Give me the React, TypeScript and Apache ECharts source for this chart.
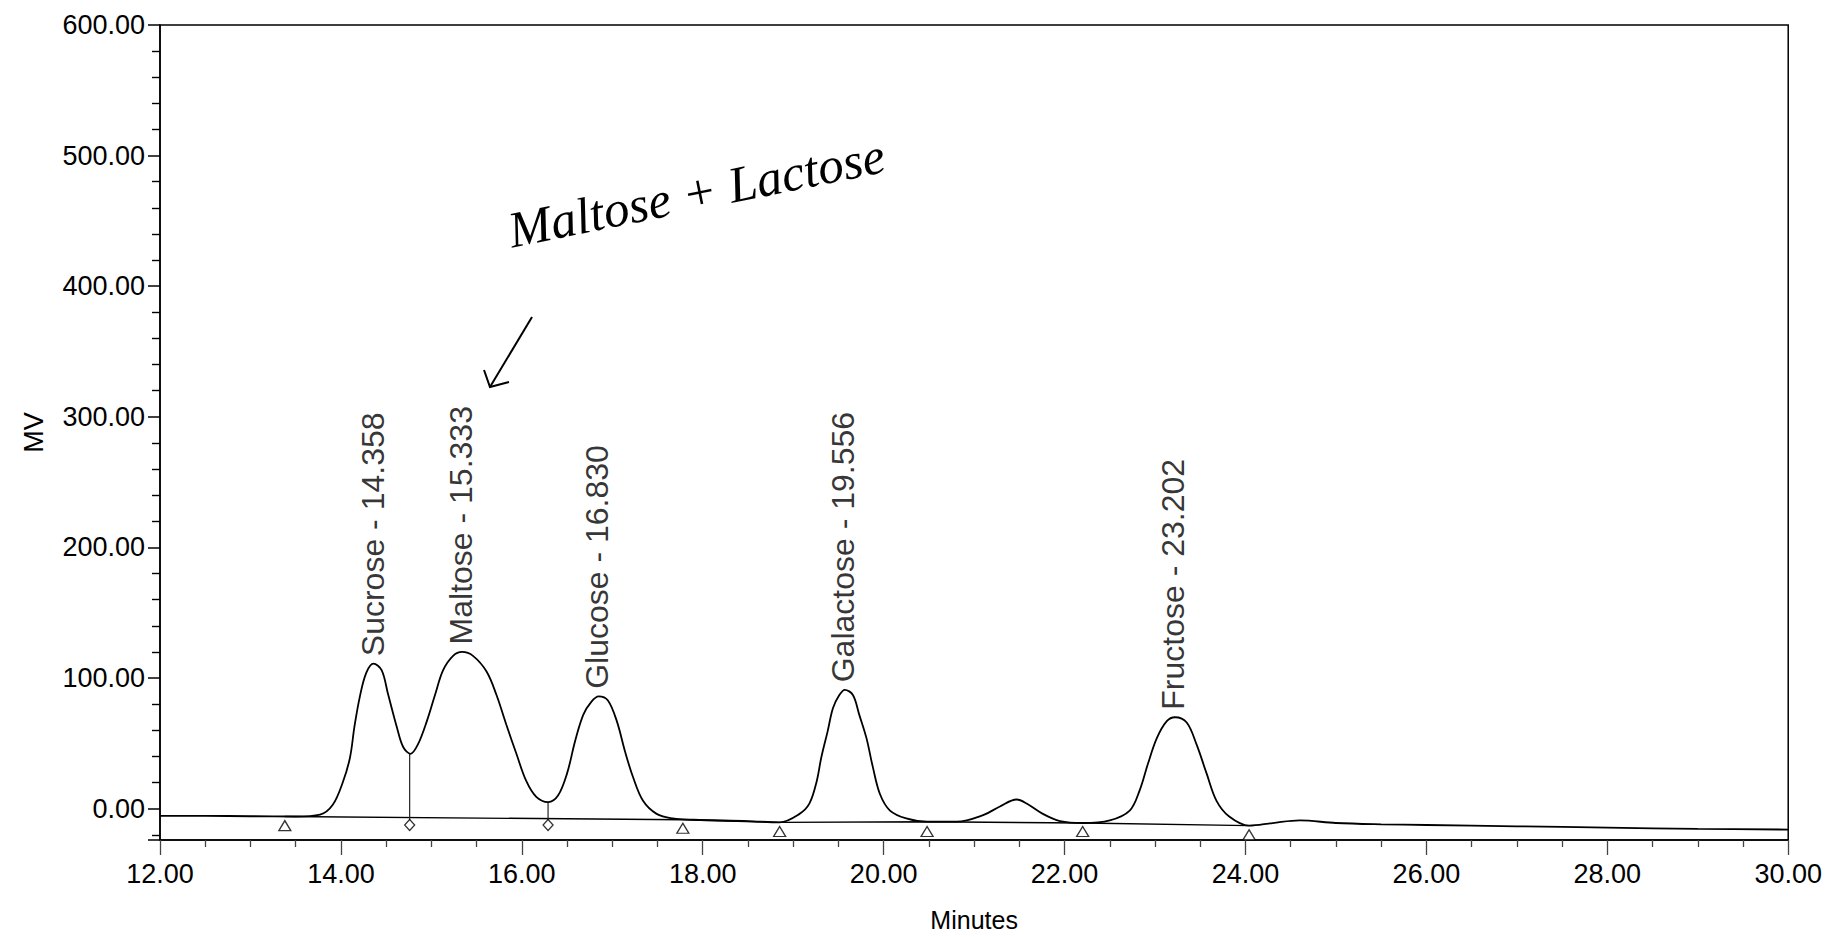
import React, { useEffect, useRef } from "react";
import * as echarts from "echarts";

// ---- Chromatogram trace (minutes, mV) ----
const TRACE_TIME = [
  12.0, 12.5, 13.0, 13.5, 13.77, 13.91, 14.02, 14.1, 14.15, 14.21, 14.28, 14.36, 14.45, 14.52, 14.62, 14.69,
  14.77, 14.85, 14.95, 15.04, 15.13, 15.24, 15.34, 15.46, 15.61, 15.72, 15.83, 15.94, 16.05, 16.16, 16.29,
  16.4, 16.5, 16.59, 16.68, 16.77, 16.85, 16.95, 17.05, 17.14, 17.23, 17.34, 17.49, 17.67, 17.9, 18.5,
  18.85, 19.07, 19.18, 19.26, 19.31, 19.38, 19.44, 19.51, 19.57, 19.66, 19.73, 19.81, 19.88, 19.96, 20.07,
  20.25, 20.48, 20.81, 21.1, 21.28, 21.47, 21.58, 21.76, 21.95, 22.2, 22.5, 22.72, 22.83, 22.92, 23.02,
  23.13, 23.22, 23.35, 23.46, 23.57, 23.68, 23.82, 24.04, 24.3, 24.6, 25.0, 25.5, 26.0, 27.0, 28.0, 29.0, 30.0,
];
const TRACE_MV = [
  -5.5, -5.5, -5.8, -6, -4.5, 3, 20, 39, 63, 86, 104, 111, 106, 88, 62, 47,
  42, 49, 67, 87, 106, 117, 120, 117, 105, 87, 64, 42, 21, 9, 5,
  10, 27, 52, 72, 82, 86, 83, 67, 44, 24, 6, -4, -7.5, -8.5, -9.5,
  -10.5, -4, 4, 21, 39, 59, 77, 87, 91, 87, 72, 54, 32, 11, -1.5,
  -7.5, -10, -10, -5, 1.5, 7, 4, -4, -9.5, -11, -9, -1.5, 14, 34, 54,
  67, 70, 66, 49, 27, 6, -6, -13, -11, -9, -11, -12, -12.5, -13.5, -14.5, -15.5, -16,
];

// ---- Peaks ----
const PEAK_NAMES = ["Sucrose", "Maltose", "Glucose", "Galactose", "Fructose"];
const PEAK_RT_TEXT = ["14.358", "15.333", "16.830", "19.556", "23.202"];
const PEAK_TIME = [14.358, 15.333, 16.83, 19.556, 23.202];
const PEAK_MV = [111, 120, 86, 91, 70];

// ---- Integration baseline, drop lines and markers ----
const BASELINE_TIME = [13.38, 17.78, 18.85, 20.48, 22.2, 24.04];
const BASELINE_MV = [-6, -8.5, -10.5, -10, -11, -13];
const DROP_TIME = [14.76, 16.29];
const DROP_TOP = [42, 5];
const DROP_BOTTOM = [-9, -9];
const TRIANGLE_TIME = [13.38, 17.78, 18.85, 20.48, 22.2, 24.04];
const TRIANGLE_MV = [-13, -15, -17.5, -17.5, -17.5, -20];
const DIAMOND_TIME = [14.76, 16.29];
const DIAMOND_MV = [-12.5, -12.5];

// ---- Axis range ----
const X_MIN = 12;
const X_MAX = 30;
const Y_MIN = -24;
const Y_MAX = 600;

const FONT = '"Liberation Sans", Arial, sans-serif';

export default function App() {
  const ref = useRef<HTMLDivElement>(null);

  useEffect(() => {
    if (!ref.current) return;
    const chart = echarts.init(ref.current, null, { renderer: "svg" });

    const trace = TRACE_TIME.map((t, i) => [t, TRACE_MV[i]]);
    const baseline = BASELINE_TIME.map((t, i) => [t, BASELINE_MV[i]]);
    const peaks = PEAK_TIME.map((t, i) => ({
      value: [t, PEAK_MV[i]],
      name: `${PEAK_NAMES[i]} - ${PEAK_RT_TEXT[i]}`,
    }));

    const dropSeries = DROP_TIME.map((t, i) => ({
      type: "line",
      data: [
        [t, DROP_TOP[i]],
        [t, DROP_BOTTOM[i]],
      ],
      symbol: "none",
      lineStyle: { color: "#222", width: 1.2 },
      silent: true,
      z: 3,
    }));

    chart.setOption({
      animation: false,
      backgroundColor: "#fff",
      grid: {
        left: 160,
        right: 36,
        top: 25,
        bottom: 91,
        show: true,
        borderColor: "#000",
        borderWidth: 1.5,
        backgroundColor: "transparent",
      },
      xAxis: {
        type: "value",
        min: X_MIN,
        max: X_MAX,
        interval: 2,
        name: "Minutes",
        nameLocation: "middle",
        nameGap: 67,
        nameTextStyle: { fontFamily: FONT, fontSize: 25, color: "#000" },
        axisLine: { show: true, onZero: false, lineStyle: { color: "#000", width: 1.5 } },
        axisTick: { show: true, length: 15, lineStyle: { color: "#444", width: 1.3 } },
        minorTick: { show: true, splitNumber: 4, length: 7, lineStyle: { color: "#444", width: 1.3 } },
        splitLine: { show: false },
        axisLabel: {
          fontFamily: FONT,
          fontSize: 27,
          color: "#000",
          margin: 20,
          formatter: (v: number) => v.toFixed(2),
        },
      },
      yAxis: {
        type: "value",
        min: Y_MIN,
        max: Y_MAX,
        splitNumber: 6,
        position: "left",
        name: "MV",
        nameLocation: "middle",
        nameGap: 113,
        nameTextStyle: { fontFamily: FONT, fontSize: 27, color: "#000" },
        axisLine: { show: true, onZero: false, lineStyle: { color: "#000", width: 1.5 } },
        axisTick: { show: true, length: 12, lineStyle: { color: "#000", width: 1.5 } },
        minorTick: { show: true, splitNumber: 5, length: 8, lineStyle: { color: "#000", width: 1.4 } },
        splitLine: { show: false },
        minorSplitLine: { show: false },
        axisLabel: {
          fontFamily: FONT,
          fontSize: 27,
          color: "#000",
          margin: 15,
          formatter: (v: number) => (v < 0 ? "" : v.toFixed(2)),
        },
      },
      series: [
        {
          type: "line",
          name: "trace",
          data: trace,
          symbol: "none",
          smooth: 0.35,
          lineStyle: { color: "#000", width: 1.8 },
          silent: true,
          z: 4,
        },
        {
          type: "line",
          name: "baseline",
          data: baseline,
          symbol: "none",
          lineStyle: { color: "#000", width: 1.4 },
          silent: true,
          z: 3,
        },
        ...dropSeries,
        {
          type: "scatter",
          name: "triangles",
          data: TRIANGLE_TIME.map((t, i) => [t, TRIANGLE_MV[i]]),
          symbol: "triangle",
          symbolSize: [12, 10],
          itemStyle: { color: "#fff", borderColor: "#000", borderWidth: 1.3 },
          silent: true,
          z: 5,
        },
        {
          type: "scatter",
          name: "diamonds",
          data: DIAMOND_TIME.map((t, i) => [t, DIAMOND_MV[i]]),
          symbol: "diamond",
          symbolSize: [10, 11],
          itemStyle: { color: "#fff", borderColor: "#000", borderWidth: 1.3 },
          silent: true,
          z: 5,
        },
        {
          type: "scatter",
          name: "peaks",
          data: peaks,
          symbolSize: 1,
          itemStyle: { color: "transparent" },
          silent: true,
          z: 6,
          label: {
            show: true,
            position: "top",
            distance: 7,
            rotate: 90,
            align: "left",
            verticalAlign: "middle",
            fontFamily: FONT,
            fontSize: 32,
            color: "#000",
            formatter: (p: any) => p.name,
          },
        },
      ],
      graphic: [
        {
          type: "text",
          x: 514,
          y: 256,
          rotation: 0.2,
          silent: true,
          style: {
            text: "Maltose + Lactose",
            font: 'italic 51px "Liberation Serif", "DejaVu Serif", serif',
            fill: "#000",
            align: "left",
            verticalAlign: "bottom",
          },
        },
        {
          type: "polyline",
          silent: true,
          shape: { points: [[532, 317], [490, 387]] },
          style: { stroke: "#000", lineWidth: 2, fill: null },
        },
        {
          type: "polyline",
          silent: true,
          shape: { points: [[484, 370], [490, 387], [509, 382]] },
          style: { stroke: "#000", lineWidth: 2, fill: null },
        },
      ],
    });

    return () => chart.dispose();
  }, []);

  return (
    <div
      ref={ref}
      style={{ position: "fixed", left: 0, top: 0, width: 1825, height: 937, background: "#fff" }}
    />
  );
}
